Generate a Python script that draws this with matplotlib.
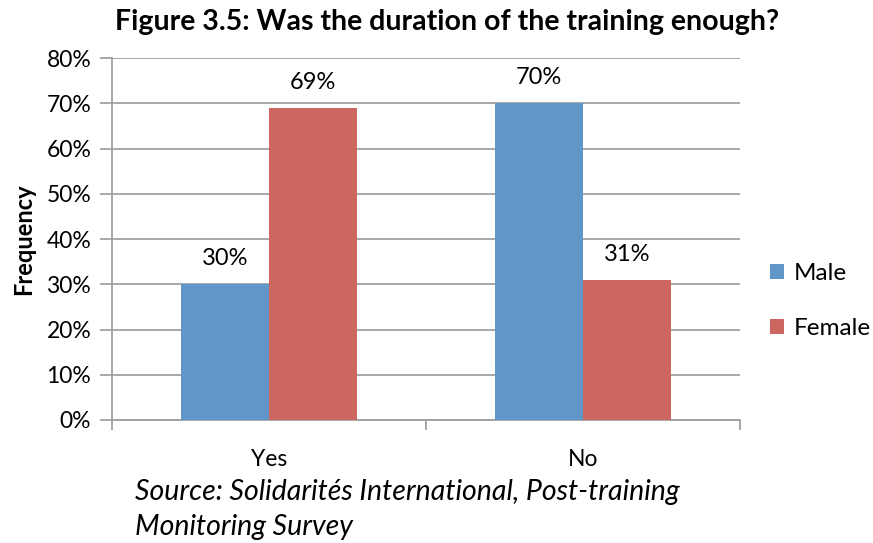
import matplotlib
matplotlib.use("Agg")
import matplotlib.pyplot as plt
import numpy as np

categories = ["Yes", "No"]
series_names = ["Male", "Female"]
male = [30, 70]
female = [69, 31]
yticks = [0, 10, 20, 30, 40, 50, 60, 70, 80]

plt.rcParams['font.family'] = ['Lato', 'DejaVu Sans']

fig = plt.figure(figsize=(8.73, 5.43), dpi=100)
W, H = 873, 543
ax = fig.add_axes([112 / W, 1 - 420 / H, (740 - 112) / W, (420 - 58) / H])

x = np.arange(len(categories))
w = 0.28
blue = "#6096C8"
red = "#CC6660"
b1 = ax.bar(x - w / 2, male, w, color=blue, label="Male", zorder=3)
b2 = ax.bar(x + w / 2, female, w, color=red, label="Female", zorder=3)

for bars, vals in ((b1, male), (b2, female)):
    for b, v in zip(bars, vals):
        ax.text(b.get_x() + b.get_width() / 2, v + 3.3, f"{v}%", ha="center",
                va="bottom", fontsize=17)

ax.set_xlim(-0.5, 1.5)
ax.set_ylim(0, 80)
ax.set_yticks(yticks)
ax.set_yticklabels([f"{t}%" for t in yticks], fontsize=16.5)
ax.yaxis.grid(True, color="#A0A0A0", linewidth=1.3, zorder=0)
ax.set_axisbelow(True)
ax.tick_params(axis='y', length=9, color="#A0A0A0", width=1.3, pad=6)
ax.set_xticks([-0.5, 0.5, 1.5], minor=False)
ax.set_xticklabels([])
ax.set_xticks(x, minor=True)
ax.set_xticklabels(categories, minor=True, fontsize=16.5)
ax.tick_params(axis='x', which='major', length=7, color="#A0A0A0", width=1.3)
ax.tick_params(axis='x', which='minor', length=0, pad=21)
for s in ["top", "right"]:
    ax.spines[s].set_visible(False)
for s in ["left", "bottom"]:
    ax.spines[s].set_color("#A0A0A0")
    ax.spines[s].set_linewidth(1.3)

ax.set_ylabel("Frequency", fontsize=17, fontweight="bold", labelpad=8)

fig.text(447 / W, 1 - 22 / H, "Figure 3.5: Was the duration of the training enough?",
         ha="center", va="center", fontsize=20.5, fontweight="bold")

leg = ax.legend(loc="center left", bbox_to_anchor=(748 / W, 1 - 301 / H),
                bbox_transform=fig.transFigure, frameon=False, fontsize=17.5,
                handlelength=0.6, handleheight=0.6, handletextpad=0.4,
                labelspacing=1.4)

fig.text(135 / W, 1 - 492 / H, "Source: Solidarités International, Post-training",
         ha="left", va="center", fontsize=20.5, style="italic")
fig.text(135 / W, 1 - 527 / H, "Monitoring Survey",
         ha="left", va="center", fontsize=20.5, style="italic")

fig.savefig("out.png", dpi=100)
